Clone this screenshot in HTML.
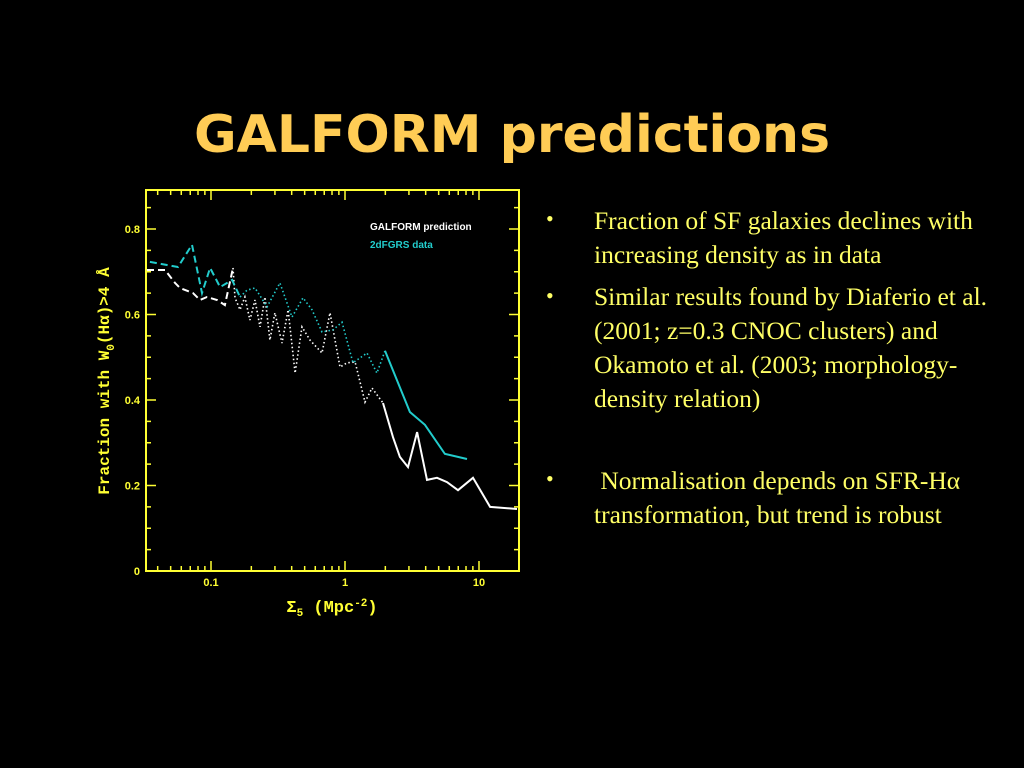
<!DOCTYPE html>
<html><head><meta charset="utf-8"><style>
body{margin:0;background:#000;width:1024px;height:768px;overflow:hidden;position:relative;font-family:"Liberation Serif",serif}
#title{position:absolute;left:0;width:1024px;top:105px;text-align:center;color:#ffcc55;font:bold 52px "DejaVu Sans",sans-serif;letter-spacing:0px}
.b{position:absolute;color:#ffff66;font-size:25.5px;line-height:34px;white-space:nowrap}
.bd{position:absolute;left:546px;color:#ffff66;font-size:22px}
</style></head><body>
<div id="title">GALFORM predictions</div>
<svg id="chart" width="1024" height="768" style="position:absolute;left:0;top:0"></svg>
<div class="bd" style="top:206px">•</div>
<div class="b" style="left:594px;top:204px">Fraction of SF galaxies declines with<br>increasing density as in data</div>
<div class="bd" style="top:283px">•</div>
<div class="b" style="left:594px;top:280px">Similar results found by Diaferio et al.<br>(2001; z=0.3 CNOC clusters) and<br>Okamoto et al. (2003; morphology-<br>density relation)</div>
<div class="bd" style="top:466px">•</div>
<div class="b" style="left:594px;top:464px">&nbsp;Normalisation depends on SFR-Hα<br>transformation, but trend is robust</div>
<script>
const modelSigma=[0.0333,0.0454,0.0539,0.0587,0.0734,0.0828,0.0933,0.111,0.127,0.146,0.151,0.1645,0.179,0.195,0.213,0.232,0.253,0.275,0.300,0.339,0.376,0.424,0.478,0.548,0.673,0.773,0.918,1.035,1.19,1.41,1.59,1.92,2.28,2.57,2.95,3.45,4.09,4.86,5.77,6.97,9.02,12.1,19.2];
const modelFrac=[0.704,0.704,0.674,0.662,0.650,0.634,0.641,0.634,0.622,0.709,0.639,0.611,0.641,0.587,0.634,0.571,0.641,0.540,0.604,0.533,0.611,0.463,0.571,0.540,0.510,0.604,0.477,0.487,0.489,0.395,0.428,0.393,0.313,0.267,0.243,0.325,0.213,0.218,0.208,0.189,0.218,0.150,0.145];
const dataSigma=[0.035,0.0567,0.0722,0.0857,0.0984,0.117,0.1436,0.1645,0.186,0.213,0.262,0.327,0.402,0.486,0.567,0.673,0.813,0.95,1.148,1.46,1.73,1.99,3.05,3.95,5.57,8.13];
const dataFrac=[0.723,0.711,0.763,0.650,0.709,0.664,0.681,0.641,0.657,0.662,0.618,0.674,0.594,0.639,0.611,0.559,0.564,0.582,0.487,0.510,0.463,0.515,0.372,0.342,0.274,0.262];
const yTicks=[0,0.2,0.4,0.6,0.8];
const yTickLabels=["0","0.2","0.4","0.6","0.8"];
const xTicks=[0.1,1,10];
const xTickLabels=["0.1","1","10"];
const L=146,R=519,T=190,B=571;
const X=v=>345+134*Math.log10(v);
const Y=v=>571-427.5*v;
const svg=document.getElementById('chart');
const NS='http://www.w3.org/2000/svg';
function mk(tag,attrs){const e=document.createElementNS(NS,tag);for(const k in attrs)e.setAttribute(k,attrs[k]);svg.appendChild(e);return e;}
const frame=mk('rect',{x:L,y:T,width:R-L,height:B-T,fill:'none',stroke:'#ffff33','stroke-width':2});


const Y_='#ffff33';
for(let v=0;v<=0.89;v+=0.05){const y=Y(v);const maj=Math.abs(v*10-Math.round(v*10))<0.01&&Math.round(v*10)%2==0;const len=maj?10:5;
const t1=mk('line',{x1:L,x2:L+len,y1:y,y2:y,stroke:Y_,'stroke-width':1.5});
const t2=mk('line',{x1:R,x2:R-len,y1:y,y2:y,stroke:Y_,'stroke-width':1.5});}
yTicks.forEach((v,i)=>{const t=mk('text',{x:140,y:Y(v)+4,fill:Y_,'font-size':11,'font-weight':'bold','text-anchor':'end','font-family':'Liberation Sans,sans-serif'});t.textContent=yTickLabels[i];});
for(let d=-2;d<=1;d++)for(let m=1;m<=9;m++){const v=m*Math.pow(10,d);const x=X(v);if(x<L||x>R)continue;const len=m==1?10:5;
const a=mk('line',{x1:x,x2:x,y1:B,y2:B-len,stroke:Y_,'stroke-width':1.5});
const b=mk('line',{x1:x,x2:x,y1:T,y2:T+len,stroke:Y_,'stroke-width':1.5});}
xTicks.forEach((v,i)=>{const t=mk('text',{x:X(v),y:586,fill:Y_,'font-size':11,'font-weight':'bold','text-anchor':'middle','font-family':'Liberation Sans,sans-serif'});t.textContent=xTickLabels[i];});
const xl=mk('text',{x:332,y:612,fill:Y_,'font-size':17,'font-weight':'bold','text-anchor':'middle','font-family':'Liberation Mono,monospace'});xl.innerHTML='Σ<tspan font-size="11" dy="4">5</tspan><tspan dy="-4"> (Mpc</tspan><tspan font-size="11" dy="-6">-2</tspan><tspan dy="6">)</tspan>';

const yl=mk('text',{x:0,y:0,fill:Y_,'font-size':16,'font-weight':'bold','text-anchor':'middle','font-family':'Liberation Mono,monospace',transform:'translate(109,381) rotate(-90)'});yl.innerHTML='Fraction with W<tspan font-size="11" dy="5">0</tspan><tspan dy="-5">(Hα)&gt;4 Å</tspan>';

function series(xs,ys,dashTo,solidFrom,color,name){
let d0='',d1='',d2='';xs.forEach((s,i)=>{const p=X(s).toFixed(1)+','+Y(ys[i]).toFixed(1);
if(s<=dashTo)d0+=(d0?'L':'M')+p;
if(s>=dashTo&&s<=solidFrom)d1+=(d1?'L':'M')+p;
if(s>=solidFrom)d2+=(d2?'L':'M')+p;});
const a=mk('path',{d:d0,fill:'none',stroke:color,'stroke-width':2,'stroke-dasharray':'7,4'});
const c=mk('path',{d:d1,fill:'none',stroke:color,'stroke-width':1.6,'stroke-dasharray':'1.5,2.5'});
const b=mk('path',{d:d2,fill:'none',stroke:color,'stroke-width':2});}
series(modelSigma,modelFrac,0.146,1.92,'#ffffff','galform-line');
series(dataSigma,dataFrac,0.1645,1.99,'#22cccc','2dfgrs-line');
const g1=mk('text',{x:370,y:230,fill:'#fff','font-size':10,'font-weight':'bold','font-family':'Liberation Sans,sans-serif'});g1.textContent='GALFORM prediction';
const g2=mk('text',{x:370,y:248,fill:'#22cccc','font-size':10,'font-weight':'bold','font-family':'Liberation Sans,sans-serif'});g2.textContent='2dFGRS data';
</script>
</body></html>
